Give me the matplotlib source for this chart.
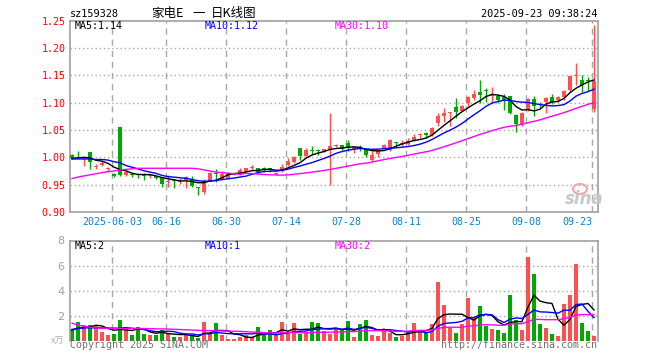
import numpy as np
import pandas as pd
import matplotlib
matplotlib.use('Agg')
import matplotlib.pyplot as plt
import matplotlib.transforms as mtransforms
from matplotlib.patches import Ellipse

# daily candles, 2025-05-22 .. 2025-09-23 (88 trading days)
opens = [1.004, 1.000, 0.997, 1.009, 0.982, 0.986, 0.978, 0.969, 1.055, 0.968,
         0.970, 0.970, 0.970, 0.965, 0.965, 0.963, 0.954, 0.958, 0.955, 0.958,
         0.958, 0.945, 0.936, 0.957, 0.971, 0.961, 0.962, 0.968, 0.969, 0.974,
         0.980, 0.980, 0.979, 0.979, 0.970, 0.975, 0.986, 0.991, 1.018, 1.003,
         1.013, 1.013, 1.011, 1.015, 1.021, 1.022, 1.026, 1.013, 1.017, 1.016,
         0.996, 1.007, 1.017, 1.014, 1.028, 1.023, 1.024, 1.032, 1.040, 1.044,
         1.040, 1.062, 1.075, 1.082, 1.092, 1.085, 1.099, 1.109, 1.120, 1.122,
         1.112, 1.112, 1.110, 1.112, 1.078, 1.061, 1.086, 1.107, 1.097, 1.101,
         1.110, 1.104, 1.110, 1.123, 1.148, 1.142, 1.140, 1.088]
highs = [1.006, 1.012, 1.001, 1.009, 0.987, 0.993, 0.983, 0.971, 1.055, 0.975,
         0.972, 0.971, 0.972, 0.968, 0.966, 0.964, 0.968, 0.961, 0.963, 0.965,
         0.965, 0.945, 0.960, 0.973, 0.979, 0.975, 0.974, 0.971, 0.980, 0.981,
         0.986, 0.981, 0.982, 0.981, 0.974, 0.988, 0.998, 1.002, 1.018, 1.017,
         1.020, 1.016, 1.016, 1.081, 1.025, 1.023, 1.032, 1.020, 1.023, 1.017,
         1.016, 1.016, 1.024, 1.033, 1.028, 1.031, 1.035, 1.043, 1.044, 1.047,
         1.055, 1.082, 1.090, 1.083, 1.109, 1.095, 1.112, 1.123, 1.142, 1.126,
         1.129, 1.116, 1.115, 1.113, 1.079, 1.083, 1.108, 1.113, 1.101, 1.111,
         1.116, 1.113, 1.123, 1.149, 1.172, 1.151, 1.147, 1.243]
lows = [0.997, 0.998, 0.985, 0.979, 0.979, 0.984, 0.974, 0.964, 0.966, 0.965,
        0.964, 0.963, 0.958, 0.963, 0.961, 0.946, 0.946, 0.944, 0.951, 0.944,
        0.945, 0.932, 0.933, 0.956, 0.955, 0.960, 0.960, 0.967, 0.968, 0.973,
        0.977, 0.972, 0.973, 0.973, 0.967, 0.974, 0.985, 0.990, 0.996, 1.001,
        1.006, 1.005, 1.010, 0.950, 1.019, 1.013, 1.011, 1.008, 1.011, 1.000,
        0.993, 1.001, 1.015, 1.011, 1.022, 1.021, 1.023, 1.029, 1.036, 1.035,
        1.039, 1.057, 1.064, 1.058, 1.072, 1.084, 1.094, 1.105, 1.100, 1.101,
        1.100, 1.099, 1.086, 1.079, 1.047, 1.058, 1.085, 1.076, 1.091, 1.082,
        1.097, 1.101, 1.105, 1.120, 1.132, 1.120, 1.122, 1.083]
closes = [0.998, 0.999, 1.000, 0.991, 0.985, 0.990, 0.979, 0.966, 0.968, 0.974,
          0.968, 0.967, 0.966, 0.967, 0.963, 0.952, 0.956, 0.957, 0.956, 0.964,
          0.947, 0.944, 0.957, 0.972, 0.970, 0.970, 0.971, 0.969, 0.976, 0.980,
          0.982, 0.973, 0.978, 0.978, 0.971, 0.983, 0.993, 1.001, 1.002, 1.013,
          1.012, 1.011, 1.015, 1.021, 1.022, 1.016, 1.018, 1.019, 1.016, 1.004,
          1.005, 1.014, 1.023, 1.032, 1.027, 1.027, 1.030, 1.038, 1.041, 1.040,
          1.054, 1.075, 1.082, 1.083, 1.083, 1.094, 1.111, 1.116, 1.114, 1.121,
          1.114, 1.104, 1.105, 1.081, 1.061, 1.082, 1.107, 1.094, 1.096, 1.108,
          1.102, 1.111, 1.122, 1.148, 1.149, 1.132, 1.139, 1.140]
volumes = [0.97, 1.47, 1.24, 1.29, 1.21, 0.68, 0.45, 0.53, 1.63, 1.00,
           0.45, 1.08, 0.53, 0.45, 0.45, 0.84, 0.58, 0.29, 0.29, 0.45,
           0.42, 0.24, 1.47, 0.55, 1.39, 0.45, 0.13, 0.13, 0.29, 0.45,
           0.29, 1.08, 0.45, 0.84, 0.53, 1.47, 0.50, 1.39, 0.53, 0.68,
           1.47, 1.39, 0.76, 0.53, 0.92, 0.89, 1.55, 0.26, 1.32, 1.68,
           0.45, 0.37, 0.76, 0.58, 0.26, 0.39, 0.76, 1.39, 0.76, 0.68,
           1.32, 4.71, 2.89, 1.05, 0.61, 1.32, 3.37, 1.89, 2.74, 1.16,
           0.92, 0.84, 0.61, 3.68, 1.63, 0.84, 6.68, 5.34, 1.32, 1.00,
           0.53, 0.37, 2.97, 3.61, 6.13, 1.39, 0.76, 0.37]

# moving-average values at the left edge (window reaches before the chart)
ma5_head = [0.998, 0.999, 1.000, 0.999]
ma10_head = [0.997, 0.997, 0.997, 0.997, 0.996, 0.996, 0.995, 0.992, 0.990]
ma30_head = [0.961, 0.964, 0.966, 0.968, 0.970, 0.972, 0.974, 0.975, 0.977, 0.978,
             0.979, 0.980, 0.980, 0.980, 0.980, 0.980, 0.980, 0.980, 0.980, 0.980,
             0.980, 0.979, 0.977, 0.975, 0.973, 0.972, 0.971, 0.970, 0.969]
vol_ma5_head = [0.85, 1.00, 1.05, 1.10]
vol_ma10_head = [0.90, 0.98, 1.02, 1.03, 1.03, 1.02, 1.01, 1.00, 1.00]
vol_ma30_head = [1.40, 1.25, 1.15, 1.07, 1.02, 1.00, 0.99, 0.98, 0.97, 0.97,
                 0.97, 0.97, 0.97, 0.96, 0.95, 0.94, 0.93, 0.91, 0.89, 0.87,
                 0.85, 0.83, 0.81, 0.80, 0.79, 0.78, 0.77, 0.76, 0.75]

tick_idx = [7, 16, 26, 36, 46, 56, 66, 76, 87]
tick_labels = ['2025-06-03', '06-16', '06-30', '07-14', '07-28', '08-11', '08-25', '09-08', '09-23']
price_ticks = [0.90, 0.95, 1.00, 1.05, 1.10, 1.15, 1.20, 1.25]
vol_ticks = [2, 4, 6, 8]

RED = '#ff5050'
GREEN = '#00a800'
GRID = '#a8a8a8'
MONO = 'DejaVu Sans Mono'
CJK = ['Noto Sans CJK SC', 'DejaVu Sans']
W, H = 660, 360


def fx(x):
    return x / W


def fy(y):
    return 1 - y / H


def moving_avg(values, n, head):
    s = pd.Series(values, dtype=float).rolling(n).mean()
    s.iloc[:len(head)] = head
    return s.values


x = np.arange(len(closes))
o = np.array(opens)
c = np.array(closes)
up = c >= o
colors = np.where(up, RED, GREEN)

fig = plt.figure(figsize=(6.6, 3.6), dpi=100)
ax = fig.add_axes([fx(70), fy(212), (597.7 - 70) / W, (212 - 20.7) / H])
vax = fig.add_axes([fx(70), fy(340.7), (597.7 - 70) / W, (340.7 - 240.5) / H])

for a in (ax, vax):
    a.set_xlim(-0.33, 87.62)
    a.set_xticks([])
    for s in a.spines.values():
        s.set_color('#a0a0a0')
        s.set_linewidth(1.2)
    for i in tick_idx:
        a.axvline(i - 0.33, color=GRID, lw=1, linestyle=(0, (4.5, 3.5)), zorder=0)

# price panel
ax.set_ylim(0.90, 1.25)
ax.set_yticks(price_ticks)
ax.set_yticklabels(['%.2f' % p for p in price_ticks], family=MONO, fontsize=7.2, color='#ff0000')
ax.tick_params(axis='y', length=0, pad=3)
for p in price_ticks[1:-1]:
    ax.axhline(p, color=GRID, lw=1, linestyle=(0, (1, 2)), zorder=0)

ax.vlines(x, lows, highs, colors=colors, lw=1, zorder=2)
body_bottom = np.minimum(o, c)
body_height = np.maximum(np.abs(c - o), 0.0018)
ax.bar(x, body_height, bottom=body_bottom, width=0.78, color=colors, lw=0, zorder=3)

ax.plot(x, moving_avg(closes, 5, ma5_head), color='black', lw=1, zorder=4)
ax.plot(x, moving_avg(closes, 10, ma10_head), color='#0000ff', lw=1, zorder=4)
ax.plot(x, moving_avg(closes, 30, ma30_head), color='#ff00ff', lw=1, zorder=4)

# volume panel
vax.set_ylim(0, 8)
vax.set_yticks(vol_ticks)
vax.set_yticklabels([str(v) for v in vol_ticks], fontsize=8, color='#a0a0a0')
vax.tick_params(axis='y', length=0, pad=4)
vax.spines['bottom'].set_visible(False)
for v in vol_ticks[:-1]:
    vax.axhline(v, color=GRID, lw=1, linestyle=(0, (1, 2)), zorder=0)

vax.bar(x, volumes, width=0.8, color=colors, lw=0, zorder=2)
vax.plot(x, moving_avg(volumes, 5, vol_ma5_head), color='black', lw=1, zorder=4)
vax.plot(x, moving_avg(volumes, 10, vol_ma10_head), color='#0000ff', lw=1, zorder=4)
vax.plot(x, moving_avg(volumes, 30, vol_ma30_head), color='#ff00ff', lw=1, zorder=4)

# date labels between the panels
trans = mtransforms.blended_transform_factory(ax.transData, fig.transFigure)
for i, lab in zip(tick_idx, tick_labels):
    ha = 'right' if i == tick_idx[-1] else 'center'
    ax.text(i - 0.33, fy(225), lab, transform=trans, ha=ha, va='baseline',
            family=MONO, fontsize=7.2, color='#0a84d0')

# header texts
fig.text(fx(70), fy(16.7), 'sz159328', family=MONO, fontsize=7.4, va='baseline')
fig.text(fx(151), fy(17), '家电E', family=CJK, fontsize=9, va='baseline')
fig.text(fx(192), fy(17), '一', family=CJK, fontsize=9, va='baseline')
fig.text(fx(211), fy(17), '日K线图', family=CJK, fontsize=9, va='baseline')
fig.text(fx(597), fy(16.7), '2025-09-23 09:38:24', family=MONO, fontsize=7.4,
         ha='right', va='baseline')

fig.text(fx(75), fy(29.3), 'MA5:1.14', family=MONO, fontsize=7.2, va='baseline')
fig.text(fx(204.7), fy(29.3), 'MA10:1.12', family=MONO, fontsize=7.2, va='baseline', color='#0000ff')
fig.text(fx(334.7), fy(29.3), 'MA30:1.10', family=MONO, fontsize=7.2, va='baseline', color='#ff00ff')

fig.text(fx(75), fy(249.3), 'MA5:2', family=MONO, fontsize=7.2, va='baseline')
fig.text(fx(204.7), fy(249.3), 'MA10:1', family=MONO, fontsize=7.2, va='baseline', color='#0000ff')
fig.text(fx(334.7), fy(249.3), 'MA30:2', family=MONO, fontsize=7.2, va='baseline', color='#ff00ff')

# footer
fig.text(fx(64), fy(344), 'x万', family=CJK, fontsize=6.5,
         ha='right', va='baseline', color='#b0b0b0')
fig.text(fx(69.5), fy(348), 'Copyright 2025 SINA.COM', family=MONO, fontsize=7.2,
         va='baseline', color='#707070')
fig.text(fx(597), fy(348), 'http://finance.sina.com.cn', family=MONO, fontsize=7.2,
         ha='right', va='baseline', color='#707070')

# sina watermark
fig.add_artist(Ellipse((fx(580), fy(189)), 14 / W, 10 / H, transform=fig.transFigure,
                       facecolor='none', edgecolor='#f2a8a8', lw=1.5))
fig.text(fx(565), fy(204), 'sina', fontsize=12, fontweight='bold', fontstyle='italic',
         color='#c8c8c8', va='baseline')

fig.savefig('out.png', dpi=100)
